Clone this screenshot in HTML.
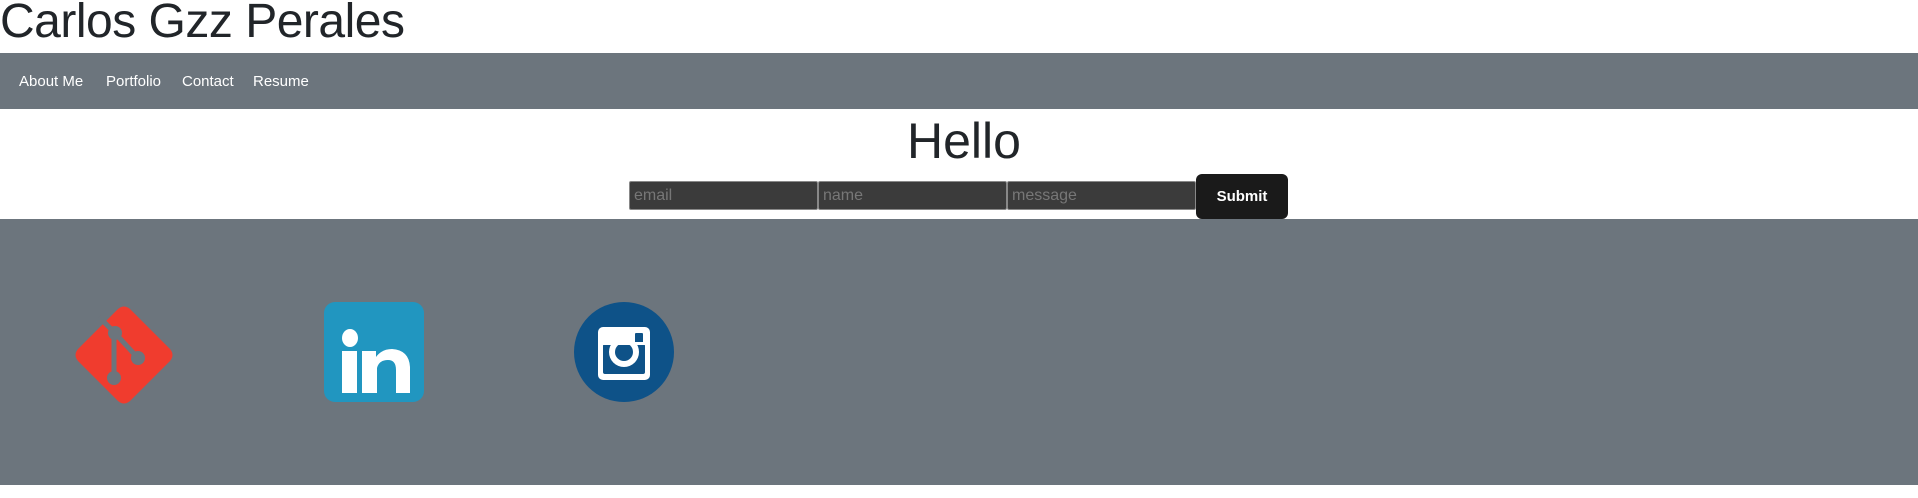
<!DOCTYPE html>
<html><head><meta charset="utf-8"><style>
*{margin:0;padding:0;box-sizing:border-box}
body{width:1918px;height:498px;background:#fff;font-family:"Liberation Sans",sans-serif;color:#212529;position:relative;overflow:hidden}
.abs{position:absolute}
#title{left:0;top:-4px;font-size:48px;line-height:52px;white-space:nowrap;letter-spacing:-0.5px}
#nav{left:0;top:53px;width:1918px;height:56px;background:#6c757d}
.nl{position:absolute;top:20px;color:#fff;font-size:15px;line-height:18px;white-space:nowrap}
#hello{left:0;width:1918px;top:112px;text-align:center;font-size:50px;line-height:58px;padding-left:10px}
.inp{position:absolute;top:181px;height:29px;width:189px;background:#3b3b3b;border:1px solid #888;border-radius:2px;color:#777;font-size:16px;line-height:27px;padding-left:4px}
#submit{left:1196px;top:174px;width:92px;height:45px;background:#1a1a1a;border-radius:6px;color:#fff;font-weight:bold;font-size:15px;line-height:45px;text-align:center}
#footer{left:0;top:219px;width:1918px;height:266px;background:#6c757d}
</style></head><body>
<div id="title" class="abs">Carlos Gzz Perales</div>
<div id="nav" class="abs">
<span class="nl" style="left:19px">About Me</span>
<span class="nl" style="left:106px">Portfolio</span>
<span class="nl" style="left:182px">Contact</span>
<span class="nl" style="left:253px">Resume</span>
</div>
<div id="hello" class="abs">Hello</div>
<div class="inp" style="left:629px">email</div>
<div class="inp" style="left:818px">name</div>
<div class="inp" style="left:1007px">message</div>
<div id="submit" class="abs">Submit</div>
<div id="footer" class="abs"></div>
<svg class="abs" style="left:73px;top:305px" width="102" height="101" viewBox="0 0 102 101">
<path d="M45 4 Q51 -1 57 4 L97 44 Q102 50 97 56 L57 96 Q51 101 45 96 L5 56 Q0 50 5 44 Z" fill="#f03c2e"/>
<g stroke="#6c757d" stroke-width="5" fill="none">
<line x1="26" y1="12" x2="41" y2="27"/>
<line x1="41" y1="27" x2="41" y2="72"/>
<line x1="41" y1="27" x2="64" y2="52"/>
</g>
<g fill="#6c757d">
<circle cx="42" cy="28" r="7"/>
<circle cx="41" cy="73" r="7"/>
<circle cx="65" cy="53" r="7"/>
</g>
</svg>
<svg class="abs" style="left:324px;top:302px" width="100" height="100" viewBox="0 0 100 100">
<rect width="100" height="100" rx="11" fill="#2196c0"/>
<ellipse cx="26" cy="36" rx="8" ry="9" fill="#fff"/>
<rect x="18" y="49" width="15" height="42" fill="#fff"/>
<path d="M38 49 H52 V55 Q58 47 68 47 Q85 48 86 65 V91 H72 V68 Q72 58 64 58 Q55 58 53 66 V91 H38 Z" fill="#fff"/>
</svg>
<svg class="abs" style="left:574px;top:302px" width="100" height="100" viewBox="0 0 100 100">
<circle cx="50" cy="50" r="50" fill="#0e5288"/>
<rect x="24" y="25" width="52" height="53" rx="5" fill="#fff"/>
<rect x="29" y="42" width="42" height="30" rx="2" fill="#0e5288"/>
<circle cx="50" cy="50" r="15" fill="#fff"/>
<circle cx="50" cy="50" r="9" fill="#0e5288"/>
<rect x="61" y="31" width="8" height="11" rx="1" fill="#0e5288"/>
<rect x="24" y="40" width="52" height="3" fill="#fff"/>
</svg>
</body></html>
